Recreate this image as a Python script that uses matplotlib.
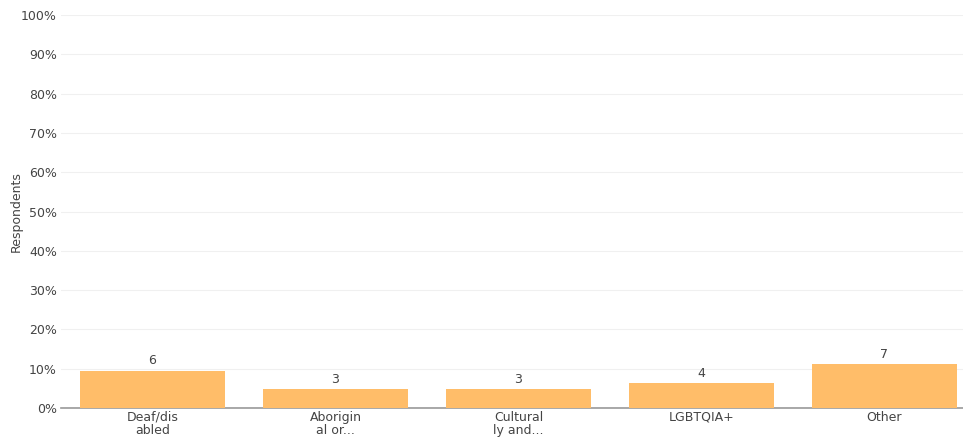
import matplotlib.pyplot as plt
from matplotlib.ticker import PercentFormatter

# ---- data ----
categories = ["Deaf/dis\nabled", "Aborigin\nal or...", "Cultural\nly and...", "LGBTQIA+", "Other"]
counts = [6, 3, 3, 4, 7]
percents = [9.5, 4.8, 4.8, 6.3, 11.1]   # bar heights, % of respondents

bar_color = "#FFBD69"
text_color = "#444444"

fig = plt.figure(figsize=(9.63, 4.41), dpi=100)
ax = fig.add_axes([0.0633, 0.0748, 0.950, 0.891])

x = range(len(categories))
ax.bar(x, percents, width=0.79, color=bar_color, zorder=3)
for xi, p, c in zip(x, percents, counts):
    ax.text(xi, p + 0.9, str(c), ha="center", va="bottom", fontsize=9, color=text_color)

ax.set_xlim(-0.5, len(categories) - 0.5)
ax.set_ylim(0, 100)
ax.set_yticks(range(0, 101, 10))
ax.yaxis.set_major_formatter(PercentFormatter(decimals=0))
ax.set_xticks(list(x))
ax.set_xticklabels(categories, fontsize=9, color=text_color, linespacing=1.05)
ax.tick_params(axis="y", labelsize=9, labelcolor=text_color, length=0, pad=3)
ax.tick_params(axis="x", length=0, pad=2)

ax.grid(axis="y", color="#f0f0f0", lw=0.8, zorder=0)
for side in ["top", "right", "left"]:
    ax.spines[side].set_visible(False)
ax.spines["bottom"].set_color("#999999")
ax.spines["bottom"].set_linewidth(1.2)

ax.set_ylabel("Respondents", fontsize=9, color=text_color)
ax.yaxis.set_label_coords(-0.042, 0.5)

fig.savefig("out.png", dpi=100)
